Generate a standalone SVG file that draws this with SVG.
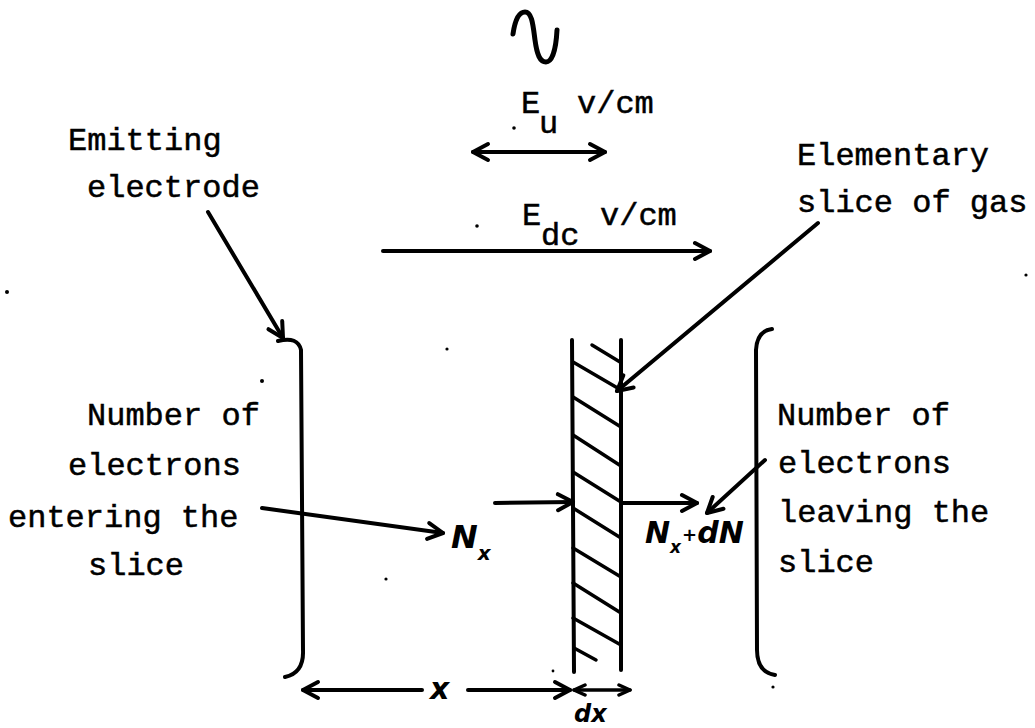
<svg xmlns="http://www.w3.org/2000/svg" width="1035" height="728" viewBox="0 0 1035 728">
<defs>
<style>
.t{font-family:"Liberation Mono","DejaVu Sans Mono",monospace;font-size:32px;fill:#000;stroke:#000;stroke-width:0.5}
.h{font-family:"DejaVu Sans",sans-serif;font-weight:bold;font-style:italic;fill:#000}
.ln{fill:none;stroke:#000;stroke-width:4;stroke-linecap:round;stroke-linejoin:round}
.ht{fill:none;stroke:#000;stroke-width:3.5;stroke-linecap:round}
</style>
<marker id="ah" markerUnits="userSpaceOnUse" markerWidth="22" markerHeight="22" viewBox="0 0 22 22" refX="19" refY="11" orient="auto-start-reverse">
<path d="M4,3 L19,11 L4,19" fill="none" stroke="#000" stroke-width="4" stroke-linecap="round" stroke-linejoin="round"/>
</marker>
<marker id="ahs" markerUnits="userSpaceOnUse" markerWidth="16" markerHeight="16" viewBox="0 0 16 16" refX="14" refY="8" orient="auto-start-reverse">
<path d="M3,3 L14,8 L3,13" fill="none" stroke="#000" stroke-width="3.5" stroke-linecap="round" stroke-linejoin="round"/>
</marker>
</defs>
<rect width="1035" height="728" fill="#fff"/>

<g id="ac-source">
<path class="ln" style="stroke-width:5" d="M513,34 C515,20 519,12 525,12 C532,12 533,25 535,40 C537,55 540,62 546,62 C552,62 556,50 557,30"/>
</g>

<g id="field-ac">
<text class="t" x="521" y="113">E</text>
<text class="t" x="539" y="133">u</text>
<text class="t" x="577" y="113">v/cm</text>
</g>

<g id="field-dc">
<text class="t" x="522" y="225">E</text>
<text class="t" x="541" y="245">dc</text>
<text class="t" x="600" y="225">v/cm</text>
</g>

<g id="emitting-electrode">
<text class="t" x="68" y="150">Emitting</text>
<text class="t" x="87" y="197">electrode</text>
<path class="ln" d="M278,341 Q298,336 301,350 L303,650 Q304,673 285,677"/>
</g>

<g id="collector-electrode">
<path class="ln" d="M772,329 Q757,331 756,350 L757,650 Q757,672 775,675"/>
</g>

<g id="slice">
<text class="t" x="797" y="165">Elementary</text>
<text class="t" x="797" y="212">slice of gas</text>
<path class="ln" d="M572,340 L574,672"/>
<path class="ln" d="M621,340 L621,670"/>
<path class="ht" d="M592,345 L620,362"/>
<path class="ht" d="M573,362 L621,390"/>
<path class="ht" d="M573,397 L621,427"/>
<path class="ht" d="M573,435 L621,466"/>
<path class="ht" d="M573,472 L621,502"/>
<path class="ht" d="M573,508 L621,538"/>
<path class="ht" d="M573,548 L621,577"/>
<path class="ht" d="M573,583 L621,613"/>
<path class="ht" d="M573,618 L621,645"/>
<path class="ht" d="M574,648 L596,660"/>
</g>

<g id="entering-label">
<text class="t" x="87" y="425">Number of</text>
<text class="t" x="68" y="475">electrons</text>
<text class="t" x="8" y="527">entering the</text>
<text class="t" x="88" y="575">slice</text>
</g>

<g id="leaving-label">
<text class="t" x="777" y="425">Number of</text>
<text class="t" x="778" y="473">electrons</text>
<text class="t" x="778" y="522">leaving the</text>
<text class="t" x="778" y="572">slice</text>
</g>

<g id="nx">
<text class="h" x="451" y="548" style="font-size:32px">N<tspan dy="12" style="font-size:20px">x</tspan></text>
</g>

<g id="nx-dn">
<text class="h" x="645" y="543" style="font-size:30px">N<tspan dy="10" style="font-size:17px">x</tspan><tspan dy="-12" dx="1" style="font-size:18px">+</tspan><tspan dy="2" style="font-size:30px">dN</tspan></text>
</g>

<g id="dimensions">
<text class="h" x="430" y="699" style="font-size:30px">x</text>
<text class="h" x="574" y="722" style="font-size:24px">dx</text>
</g>

<g id="connectors">
<path class="ln" d="M473,152 L605,152" marker-start="url(#ah)" marker-end="url(#ah)"/>
<path class="ln" d="M383,251 L710,251" marker-end="url(#ah)"/>
<path class="ln" d="M208,212 L283,338" marker-end="url(#ah)"/>
<path class="ln" d="M818,223 L617,391" marker-end="url(#ah)"/>
<path class="ln" d="M262,508 L443,533" marker-end="url(#ah)"/>
<path class="ln" d="M495,503 L573,502" marker-end="url(#ah)"/>
<path class="ln" d="M623,503 L697,503" marker-end="url(#ah)"/>
<path class="ln" d="M765,460 L707,513" marker-end="url(#ah)"/>
<path class="ln" d="M422,690 L303,690" marker-end="url(#ah)"/>
<path class="ln" d="M468,690 L570,690" marker-end="url(#ah)"/>
<path class="ln" style="stroke-width:3.5" d="M574,690 L630,690" marker-start="url(#ahs)" marker-end="url(#ahs)"/>
</g>

<g id="specks" fill="#000">
<circle cx="7" cy="292" r="2"/>
<circle cx="262" cy="381" r="2"/>
<circle cx="447" cy="349" r="1.6"/>
<circle cx="1026" cy="275" r="1.6"/>
<circle cx="386" cy="579" r="1.6"/>
<circle cx="514" cy="128" r="1.8"/>
<circle cx="477" cy="226" r="1.8"/>
<circle cx="773" cy="687" r="1.6"/>
<circle cx="553" cy="671" r="1.4"/>
</g>
</svg>
